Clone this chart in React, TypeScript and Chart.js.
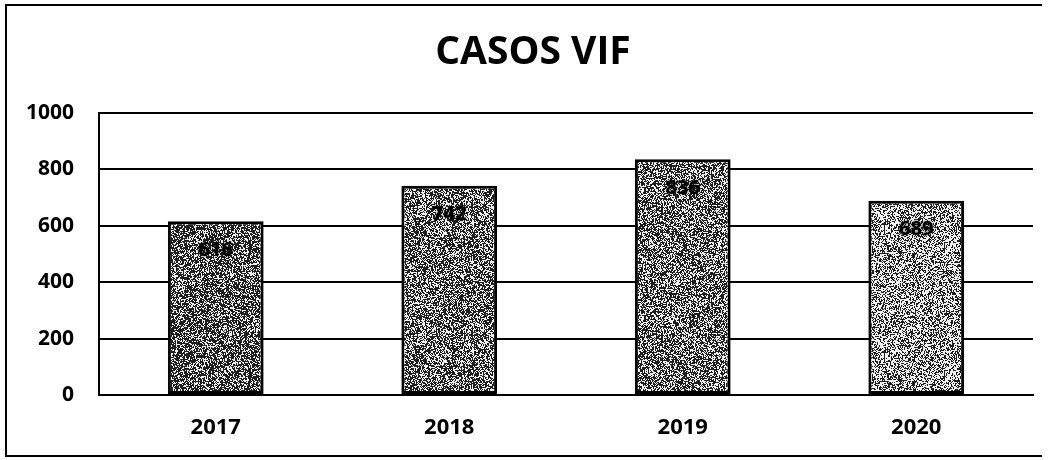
import React, { useEffect, useRef } from "react";
import { Chart, registerables } from "chart.js";

Chart.register(...registerables);

const categories = ["2017", "2018", "2019", "2020"];
const casosVif = [616, 742, 836, 689];
const yTicks = [0, 200, 400, 600, 800, 1000];
const chartTitle = "CASOS VIF";
const barLightness = [0.36, 0.42, 0.42, 0.56];

function hash(n: number): number {
  let h = n | 0;
  h = Math.imul(h ^ (h >>> 16), 0x7feb352d);
  h = Math.imul(h ^ (h >>> 15), 0x846ca68b);
  h = h ^ (h >>> 16);
  return (h >>> 0) / 4294967296;
}

function makePattern(light: number, seed: number): CanvasPattern | string {
  const size = 128;
  const c = document.createElement("canvas");
  c.width = size;
  c.height = size;
  const ctx = c.getContext("2d");
  const g = Math.round(light * 255);
  if (!ctx) return `rgb(${g},${g},${g})`;
  const img = ctx.createImageData(size, size);
  for (let y = 0; y < size; y++) {
    for (let x = 0; x < size; x++) {
      const r = hash(x + y * 131 + seed * 100003 + 17);
      const v = r < light ? 240 : 30;
      const i = (y * size + x) * 4;
      img.data[i] = v;
      img.data[i + 1] = v;
      img.data[i + 2] = v;
      img.data[i + 3] = 255;
    }
  }
  ctx.putImageData(img, 0, 0);
  const p = ctx.createPattern(c, "repeat");
  return p || `rgb(${g},${g},${g})`;
}

const framePlugin = {
  id: "framePlugin",
  beforeDraw(chart: any) {
    const ctx = chart.ctx;
    ctx.save();
    ctx.fillStyle = "#ffffff";
    ctx.fillRect(0, 0, chart.width, chart.height);
    ctx.strokeStyle = "#000";
    ctx.lineWidth = 2;
    ctx.beginPath();
    ctx.moveTo(1042, 5);
    ctx.lineTo(6, 5);
    ctx.lineTo(6, 456);
    ctx.lineTo(1042, 456);
    ctx.stroke();
    ctx.fillStyle = "#000";
    ctx.font = "bold 39px 'Open Sans'";
    ctx.textAlign = "center";
    ctx.textBaseline = "middle";
    ctx.fillText(chartTitle, 533, 53);
    ctx.restore();
  },
};

const labelPlugin = {
  id: "labelPlugin",
  afterDatasetsDraw(chart: any) {
    const ctx = chart.ctx;
    const meta = chart.getDatasetMeta(0);
    ctx.save();
    ctx.font = "bold 20px 'Open Sans'";
    ctx.textAlign = "center";
    ctx.textBaseline = "middle";
    ctx.fillStyle = "#000";
    ctx.shadowColor = "rgba(0,0,0,0.6)";
    ctx.shadowBlur = 3;
    meta.data.forEach((bar: any, i: number) => {
      ctx.fillText(String(casosVif[i]), bar.x, bar.y + 29);
    });
    ctx.restore();
  },
};

export default function App() {
  const ref = useRef<HTMLCanvasElement | null>(null);
  useEffect(() => {
    if (!ref.current) return;
    const patterns = barLightness.map((l, i) => makePattern(l, i + 1));
    const chart = new Chart(ref.current, {
      type: "bar",
      data: {
        labels: categories,
        datasets: [
          {
            label: chartTitle,
            data: casosVif,
            backgroundColor: patterns as any,
            borderColor: "#000",
            borderWidth: 3,
            borderSkipped: false,
            barPercentage: 0.41,
            categoryPercentage: 1,
          },
        ],
      },
      options: {
        animation: false,
        responsive: false,
        maintainAspectRatio: false,
        layout: { padding: { left: 6, right: 19, top: 113, bottom: 0 } },
        plugins: {
          legend: { display: false },
          title: { display: false },
          tooltip: { enabled: false },
        },
        scales: {
          x: {
            grid: { display: false, drawTicks: false },
            border: { display: true, color: "#000", width: 2 },
            ticks: {
              color: "#000",
              padding: 20,
              font: { family: "'Open Sans'", size: 22, weight: "bold" },
            },
            afterFit(scale: any) {
              scale.height = 65;
            },
          },
          y: {
            min: 0,
            max: 1000,
            afterBuildTicks(scale: any) {
              scale.ticks = yTicks.map((v) => ({ value: v }));
            },
            grid: { color: "#000", lineWidth: 2, drawTicks: false },
            border: { display: true, color: "#000", width: 2 },
            ticks: {
              color: "#000",
              padding: 25,
              font: { family: "'Open Sans'", size: 21, weight: "bold" },
              callback: (v: any) => String(v),
            },
            afterFit(scale: any) {
              scale.width = 93;
            },
          },
        },
      },
      plugins: [framePlugin, labelPlugin],
    });
    return () => chart.destroy();
  }, []);
  return (
    <div style={{ position: "fixed", left: 0, top: 0, width: 1052, height: 460, background: "#fff" }}>
      <canvas ref={ref} width={1052} height={460} style={{ display: "block" }} />
    </div>
  );
}
